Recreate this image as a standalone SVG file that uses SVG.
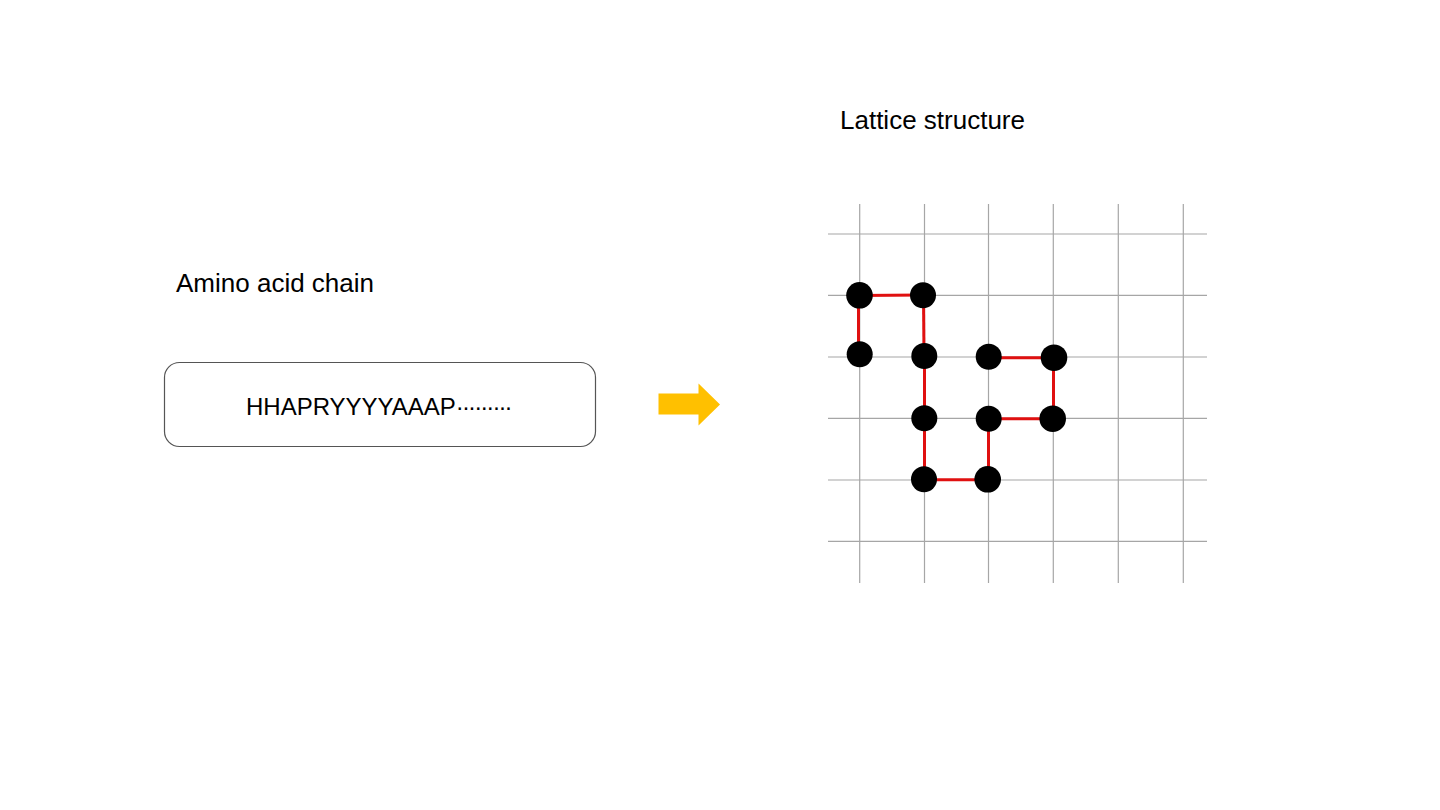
<svg xmlns="http://www.w3.org/2000/svg" width="1440" height="810" viewBox="0 0 1440 810">
<style>
.t{font-family:"Liberation Sans",Arial,sans-serif;fill:#000}
.g{stroke:#a6a6a6;stroke-width:1.2}
.e{stroke:#e01010;stroke-width:3;fill:none}
.n{fill:#000}
</style>
<rect width="1440" height="810" fill="#fff"/>
<g id="label-chain"><text class="t" x="176" y="292" font-size="26">Amino acid chain</text></g>
<g id="label-lattice"><text class="t" x="840" y="129" font-size="26">Lattice structure</text></g>
<g id="chain-box">
<rect x="164.5" y="362.5" width="431" height="84" rx="15" fill="#fff" stroke="#555" stroke-width="1.2"/>
<text class="t" x="246" y="415" font-size="24">HHAPRYYYYAAAP<tspan letter-spacing="-1.9">·········</tspan></text>
</g>
<g id="arrow"><polygon points="658.5,393.5 698.5,393.5 698.5,383.5 720,404.5 698.5,425.5 698.5,414.5 658.5,414.5" fill="#ffc000"/></g>
<g id="grid">
<line class="g" x1="859.7" y1="204" x2="859.7" y2="583"/>
<line class="g" x1="924.5" y1="204" x2="924.5" y2="583"/>
<line class="g" x1="988.5" y1="204" x2="988.5" y2="583"/>
<line class="g" x1="1053.3" y1="204" x2="1053.3" y2="583"/>
<line class="g" x1="1118.3" y1="204" x2="1118.3" y2="583"/>
<line class="g" x1="1183.3" y1="204" x2="1183.3" y2="583"/>
<line class="g" x1="828" y1="234" x2="1207" y2="234"/>
<line class="g" x1="828" y1="295.3" x2="1207" y2="295.3"/>
<line class="g" x1="828" y1="357" x2="1207" y2="357"/>
<line class="g" x1="828" y1="418.3" x2="1207" y2="418.3"/>
<line class="g" x1="828" y1="480" x2="1207" y2="480"/>
<line class="g" x1="828" y1="541.3" x2="1207" y2="541.3"/>
</g>
<g id="connectors">
<line class="e" x1="859.5" y1="295.5" x2="923" y2="295"/>
<line class="e" x1="858.5" y1="295.5" x2="858.5" y2="354.5"/>
<line class="e" x1="923.5" y1="295" x2="924" y2="356"/>
<line class="e" x1="924.5" y1="356" x2="924.5" y2="418"/>
<line class="e" x1="924.5" y1="418" x2="924.5" y2="479.5"/>
<line class="e" x1="924" y1="479.8" x2="987.7" y2="479.8"/>
<line class="e" x1="988.5" y1="479.5" x2="988.5" y2="418.7"/>
<line class="e" x1="988.7" y1="418.7" x2="1052.7" y2="418.7"/>
<line class="e" x1="1053.5" y1="418.7" x2="1053.5" y2="357.7"/>
<line class="e" x1="1054" y1="357.7" x2="988.7" y2="357.7"/>
</g>
<g id="node-1"><circle class="n" cx="859.5" cy="295.3" r="13.3"/></g>
<g id="node-2"><circle class="n" cx="923" cy="295.3" r="13"/></g>
<g id="node-3"><circle class="n" cx="859.7" cy="354.3" r="13"/></g>
<g id="node-4"><circle class="n" cx="924.3" cy="356" r="13"/></g>
<g id="node-5"><circle class="n" cx="988.7" cy="356.7" r="13"/></g>
<g id="node-6"><circle class="n" cx="1054" cy="357.7" r="13.3"/></g>
<g id="node-7"><circle class="n" cx="924.3" cy="418.3" r="13"/></g>
<g id="node-8"><circle class="n" cx="988.7" cy="418.7" r="13"/></g>
<g id="node-9"><circle class="n" cx="1052.7" cy="418.7" r="13.3"/></g>
<g id="node-10"><circle class="n" cx="924" cy="479.3" r="13"/></g>
<g id="node-11"><circle class="n" cx="987.7" cy="479.3" r="13.3"/></g>
</svg>
